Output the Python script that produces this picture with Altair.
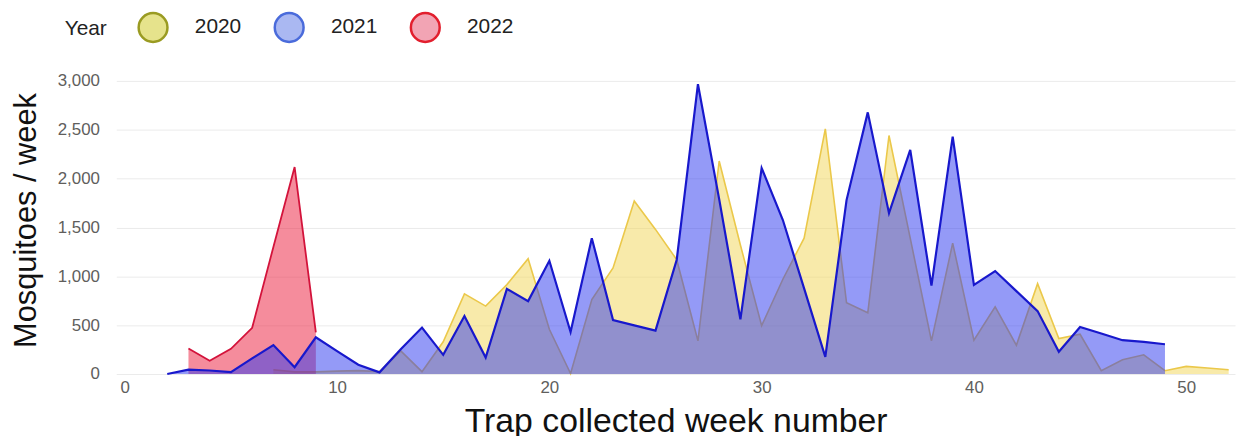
import altair as alt
import pandas as pd

# ---- data ----
weeks_2020 = list(range(7, 53))
values_2020 = [44, 22, 22, 30, 35, 25, 237, 24, 330, 820,
               695, 915, 1180, 458, 5, 763, 1085, 1770, 1480, 1170,
               339, 2180, 1320, 495, 970, 1390, 2509, 729, 627, 2441,
               1390, 339, 1340, 346, 688, 295, 925, 363, 407, 34,
               146, 197, 34, 78, 61, 44]

weeks_2021 = list(range(2, 50))
values_2021 = [0, 44, 36, 20, 160, 296, 70, 376, 234, 95,
               17, 254, 475, 196, 593, 169, 871, 746, 1159, 430,
               1390, 553, 498, 444, 1170, 2966, 1790, 559, 2108, 1576,
               876, 176, 1780, 2678, 1647, 2295, 905, 2430, 912, 1054,
               848, 644, 227, 481, 414, 346, 329, 305]

weeks_2022 = list(range(3, 10))
values_2022 = [261, 135, 258, 473, 1300, 2118, 427]

years = ["2020", "2021", "2022"]
area_colors = ["#F1D555", "#2935EF", "#EB1939"]
line_colors = ["#EBC84A", "#1818CC", "#D3133B"]
legend_fills = ["#E6E38C", "#AAB8F2", "#F2A4B4"]
legend_strokes = ["#9A9B22", "#4A6BDB", "#E21F2E"]
x_ticks = [0, 10, 20, 30, 40, 50]
y_ticks = [0, 500, 1000, 1500, 2000, 2500, 3000]

rows = []
for yr, wk, vals in [("2020", weeks_2020, values_2020),
                     ("2021", weeks_2021, values_2021),
                     ("2022", weeks_2022, values_2022)]:
    for w, v in zip(wk, vals):
        rows.append({"Year": yr, "week": w, "value": v})
df = pd.DataFrame(rows)

legend = alt.Legend(
    title="Year", orient="none", legendX=-52, legendY=-70,
    direction="horizontal", titleOrient="left", titlePadding=30,
    titleFont="Liberation Sans", titleFontSize=21, titleFontWeight="normal",
    titleColor="#222222", titleBaseline="middle",
    labelFont="Liberation Sans", labelFontSize=21, labelColor="#222222",
    symbolType="circle", symbolSize=841, symbolStrokeWidth=2.5,
    symbolOpacity=1, labelOffset=26, columnPadding=28, padding=0,
)

x_enc = alt.X(
    "week:Q",
    scale=alt.Scale(domain=[-0.4, 52.3], nice=False, zero=False),
    axis=alt.Axis(values=x_ticks, title="Trap collected week number", grid=False,
                  domain=False, ticks=False, tickSize=0, labelPadding=6,
                  labelFont="Liberation Sans", labelFontSize=17, labelColor="#605E5C",
                  titleFont="Liberation Sans", titleFontSize=34,
                  titleFontWeight="normal", titleColor="#111111",
                  titleBaseline="alphabetic", titleY=58),
)
y_enc = alt.Y(
    "value:Q", stack=None,
    scale=alt.Scale(domain=[0, 3000], nice=False),
    axis=alt.Axis(values=y_ticks, format=",.0f", grid=True, gridColor="#EBEBEB",
                  domain=False, ticks=False, tickSize=0, labelPadding=17,
                  labelFont="Liberation Sans", labelFontSize=17, labelColor="#605E5C",
                  title="Mosquitoes / week", titleFont="Liberation Sans",
                  titleFontSize=31, titleFontWeight="normal", titleColor="#111111",
                  titleX=-90, titleY=140, titleBaseline="middle", titleAlign="center",
                  titleAngle=270),
)

widths = {"2020": 1.6, "2021": 2.2, "2022": 1.8}

base = alt.Chart(df)
layers = []
for yr in ["2020", "2022", "2021"]:
    a = base.transform_filter(alt.datum.Year == yr).mark_area(
        fillOpacity=0.5, interpolate="linear"
    ).encode(x=x_enc, y=y_enc,
             fill=alt.Fill("Year:N", scale=alt.Scale(domain=years, range=area_colors),
                           legend=None))
    l = base.transform_filter(alt.datum.Year == yr).mark_line(
        strokeWidth=widths[yr], interpolate="linear"
    ).encode(x=x_enc, y=y_enc,
             stroke=alt.Stroke("Year:N", scale=alt.Scale(domain=years, range=line_colors),
                               legend=None))
    layers += [a, l]

# legend-only layer (no visible points)
legend_layer = base.transform_filter("datum.week < -100").mark_point(
    filled=True, opacity=1, shape="circle"
).encode(
    x=x_enc, y=y_enc,
    fill=alt.Fill("Year:N", scale=alt.Scale(domain=years, range=legend_fills), legend=legend),
    stroke=alt.Stroke("Year:N", scale=alt.Scale(domain=years, range=legend_strokes), legend=legend),
)
layers.append(legend_layer)

chart = alt.layer(*layers).resolve_scale(
    fill="independent", stroke="independent"
).properties(
    width=1126, height=295,
    autosize=alt.AutoSizeParams(type="none"),
    padding={"left": 109, "top": 72, "right": 4, "bottom": 61},
    background="white",
).configure_view(strokeWidth=0)

chart.save("out.html", embed_options={"renderer": "svg", "actions": False})
